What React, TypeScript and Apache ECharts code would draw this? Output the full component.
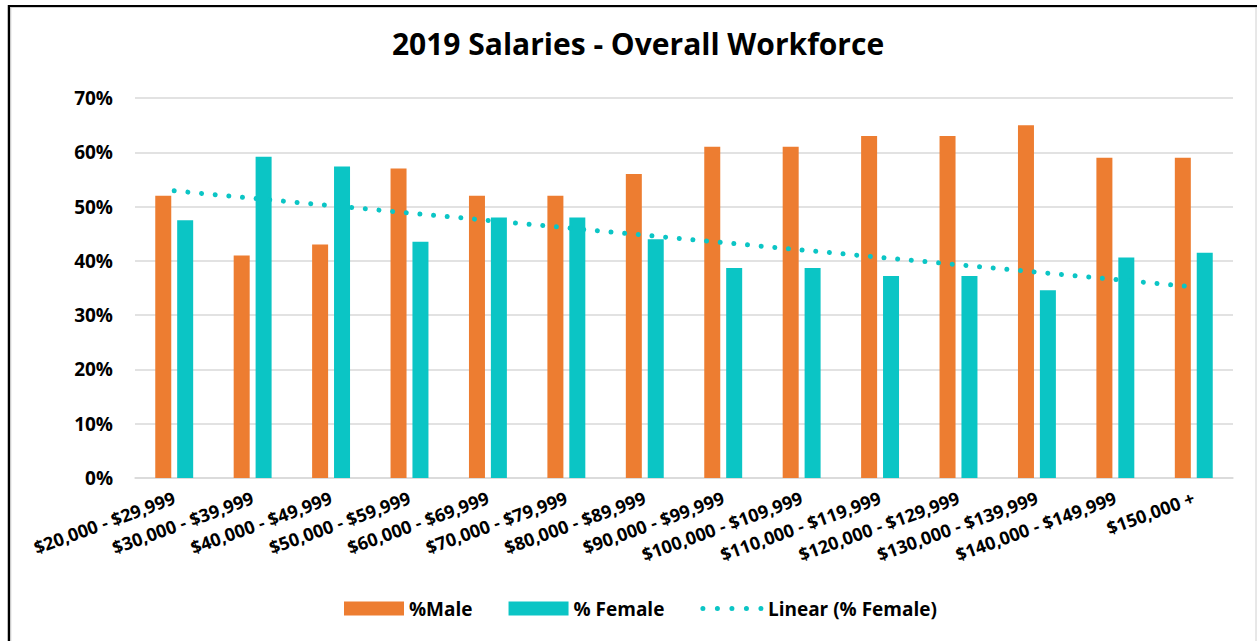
import React, { useEffect, useRef } from "react";
import * as echarts from "echarts";

const categories = [
  "$20,000 - $29,999",
  "$30,000 - $39,999",
  "$40,000 - $49,999",
  "$50,000 - $59,999",
  "$60,000 - $69,999",
  "$70,000 - $79,999",
  "$80,000 - $89,999",
  "$90,000 - $99,999",
  "$100,000 - $109,999",
  "$110,000 - $119,999",
  "$120,000 - $129,999",
  "$130,000 - $139,999",
  "$140,000 - $149,999",
  "$150,000 +",
];
const maleValues = [52, 41, 43, 57, 52, 52, 56, 61, 61, 63, 63, 65, 59, 59];
const femaleValues = [47.5, 59.2, 57.4, 43.5, 48, 48, 44, 38.7, 38.7, 37.2, 37.2, 34.6, 40.6, 41.5];
// Trendline endpoints (first and last category)
const trendValues = [52.9, null, null, null, null, null, null, null, null, null, null, null, null, 35.2];

const FONT = "Open Sans";
const ORANGE = "#ED7D31";
const TEAL = "#0BC5C5";

export default function App() {
  const ref = useRef<HTMLDivElement>(null);
  useEffect(() => {
    if (!ref.current) return;
    const chart = echarts.init(ref.current, undefined, { renderer: "svg" });
    chart.setOption({
      animation: false,
      backgroundColor: "#ffffff",
      title: {
        text: "2019 Salaries - Overall Workforce",
        left: 633,
        textAlign: "center",
        top: 23,
        textStyle: { fontFamily: FONT, fontWeight: "bold", fontSize: 30, color: "#000" },
      },
      grid: { left: 135, right: 24, top: 98, bottom: 163, containLabel: false },
      legend: {
        top: 594,
        left: 339,
        itemWidth: 60,
        itemHeight: 14,
        itemGap: 36,
        textStyle: { fontFamily: FONT, fontWeight: "bold", fontSize: 19, color: "#000" },
        data: [
          { name: "%Male", icon: "rect" },
          { name: "% Female", icon: "rect" },
          {
            name: "Linear (% Female)",
            itemStyle: { opacity: 0 },
            lineStyle: { color: TEAL, width: 5, type: [0.01, 14.5], cap: "round" },
          },
        ],
      },
      xAxis: {
        type: "category",
        data: categories,
        axisLine: { lineStyle: { color: "#d9d9d9", width: 1.5 } },
        axisTick: { show: false },
        axisLabel: {
          interval: 0,
          rotate: 20,
          margin: 19,
          fontFamily: FONT,
          fontWeight: "bold",
          fontSize: 18,
          color: "#000",
        },
      },
      yAxis: {
        type: "value",
        min: 0,
        max: 70,
        interval: 10,
        axisLine: { show: false },
        axisTick: { show: false },
        splitLine: { lineStyle: { color: "#d9d9d9", width: 1.5 } },
        axisLabel: {
          formatter: "{value}%",
          margin: 22,
          fontFamily: FONT,
          fontWeight: "bold",
          fontSize: 19,
          color: "#000",
        },
      },
      series: [
        {
          name: "%Male",
          type: "bar",
          data: maleValues,
          barWidth: 16,
          barGap: "37%",
          itemStyle: { color: ORANGE },
        },
        {
          name: "% Female",
          type: "bar",
          data: femaleValues,
          barWidth: 16,
          itemStyle: { color: TEAL },
        },
        {
          name: "Linear (% Female)",
          type: "line",
          data: trendValues,
          connectNulls: true,
          symbol: "none",
          showSymbol: false,
          itemStyle: { color: TEAL },
          lineStyle: { color: TEAL, width: 5, type: [0.01, 13.7], cap: "round" },
          z: 5,
        },
      ],
      graphic: [
        { type: "line", shape: { x1: 8, y1: 6, x2: 1257, y2: 6 }, style: { stroke: "#000", lineWidth: 2 } },
        { type: "line", shape: { x1: 9, y1: 5, x2: 9, y2: 641 }, style: { stroke: "#000", lineWidth: 2.5 } },
        { type: "line", shape: { x1: 10.5, y1: 7.5, x2: 1257, y2: 7.5 }, style: { stroke: "#d0d0d0", lineWidth: 1 } },
        { type: "line", shape: { x1: 10.8, y1: 7.5, x2: 10.8, y2: 641 }, style: { stroke: "#d0d0d0", lineWidth: 1 } },
        { type: "line", shape: { x1: 1256, y1: 7.5, x2: 1256, y2: 641 }, style: { stroke: "#d0d0d0", lineWidth: 1 } },
      ],
    });
    return () => chart.dispose();
  }, []);
  return (
    <div
      ref={ref}
      style={{ position: "absolute", left: 0, top: 0, width: 1257, height: 641 }}
    />
  );
}
